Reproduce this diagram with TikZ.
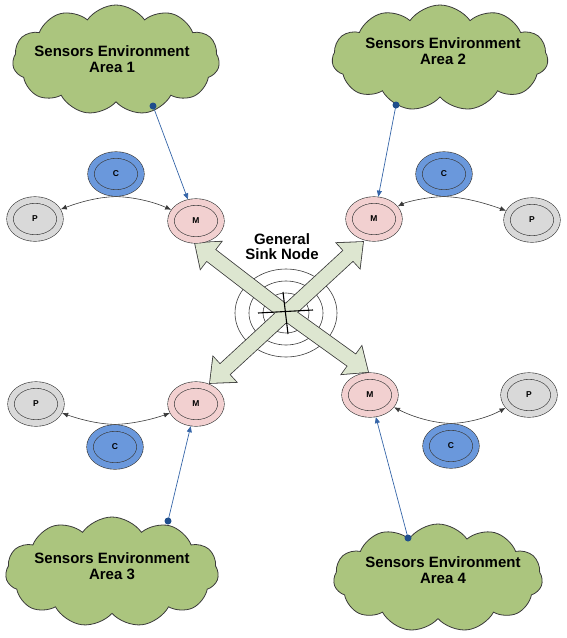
\documentclass[tikz,border=0pt]{standalone}
\usepackage{fontspec}
\setmainfont{Liberation Sans}
\usetikzlibrary{shapes.symbols,shapes.geometric,arrows.meta,calc}
\definecolor{cloudgreen}{HTML}{ABC57E}
\definecolor{mpink}{HTML}{F2D0D0}
\definecolor{cblue}{HTML}{6A98DC}
\definecolor{pgray}{HTML}{D9D9D9}
\definecolor{sage}{HTML}{DDE6D0}
\definecolor{linkblue}{HTML}{3565A8}
\definecolor{dotblue}{HTML}{1F4E8C}
\definecolor{edge}{HTML}{3A3A3A}
\tikzset{
  cloudbox/.style={cloud, cloud puffs=11, cloud puff arc=110, cloud ignores aspect,
    draw=edge, line width=0.8pt, fill=cloudgreen, inner sep=0pt},
  cloudtext/.style={align=center, font=\bfseries\fontsize{15}{15.5}\selectfont},
  dblnode/.style={ellipse, draw=edge, line width=0.6pt, fill=#1, double=#1,
    double distance=6pt, minimum width=50pt, minimum height=38pt, inner sep=0pt,
    outer sep=3.6pt, font=\bfseries\fontsize{8.5}{9}\selectfont},
  ring/.style={ellipse, draw=edge, line width=0.6pt, inner sep=0pt},
  link/.style={draw=linkblue, line width=0.7pt, -{Triangle[length=6pt,width=5pt]}},
  curvelink/.style={draw=edge, line width=0.6pt, -{Latex[length=6pt,width=5pt]}},
  arrowedge/.style={draw=edge, line width=1.6pt, line join=miter},
  arrowfill/.style={fill=sage},
}
\newcommand\sinkarrow[2]{%
  \path[#2] ($(S)!-6pt!(#1)!7pt!90:(#1)$)
    -- ($(#1)!20pt!(S)!7pt!-90:(S)$)
    -- ($(#1)!20pt!(S)!17pt!-90:(S)$)
    -- (#1)
    -- ($(#1)!20pt!(S)!17pt!90:(S)$)
    -- ($(#1)!20pt!(S)!7pt!90:(S)$)
    -- ($(S)!-6pt!(#1)!7pt!-90:(#1)$) -- cycle;}
\begin{document}
\begin{tikzpicture}[x=1pt,y=-1pt]
\useasboundingbox (0,0) rectangle (567,638);
% clouds
\node[cloudbox, minimum width=207pt, minimum height=110pt] (cl1) at (116,60) {};
\node[cloudbox, minimum width=216pt, minimum height=106pt] (cl2) at (440,58) {};
\node[cloudbox, minimum width=213pt, minimum height=110pt] (cl3) at (112,572) {};
\node[cloudbox, minimum width=209pt, minimum height=108pt] (cl4) at (438,578) {};
\node[cloudtext] (t1) at (112,59) {Sensors Environment\\Area 1};
\node[cloudtext] (t2) at (443,51) {Sensors Environment\\Area 2};
\node[cloudtext] (t3) at (112,566) {Sensors Environment\\Area 3};
\node[cloudtext] (t4) at (443,570) {Sensors Environment\\Area 4};
% sink
\coordinate (S) at (286,313);
\node[ring, minimum width=102pt, minimum height=88pt] (sink) at (S) {};
\node[ring, minimum width=74pt, minimum height=64pt] (sinkmid) at (S) {};
\node[ring, minimum width=46pt, minimum height=40pt] (sinkin) at (S) {};
\node[align=center, font=\bfseries\fontsize{15}{15}\selectfont] (sinklabel) at (282,247) {General\\Sink Node};
% big arrow tips
\coordinate (T1) at (195,243);
\coordinate (T2) at (363,242);
\coordinate (T3) at (210,383);
\coordinate (T4) at (368,372);
\sinkarrow{T1}{arrowedge}
\sinkarrow{T2}{arrowedge}
\sinkarrow{T3}{arrowedge}
\sinkarrow{T4}{arrowedge}
\sinkarrow{T1}{arrowfill}
\sinkarrow{T2}{arrowfill}
\sinkarrow{T3}{arrowfill}
\sinkarrow{T4}{arrowfill}
\draw[draw=black, line width=1.1pt] (258,313) -- (313,310);
\draw[draw=black, line width=1.1pt] (283,292) -- (288,334);
% nodes
\node[dblnode=mpink] (M1) at (196,221) {M};
\node[dblnode=mpink] (M2) at (374,219) {M};
\node[dblnode=mpink] (M3) at (196,404) {M};
\node[dblnode=mpink] (M4) at (370,395) {M};
\node[dblnode=cblue] (C1) at (116,174) {C};
\node[dblnode=cblue] (C2) at (444,174) {C};
\node[dblnode=cblue] (C3) at (115,447) {C};
\node[dblnode=cblue] (C4) at (451,446) {C};
\node[dblnode=pgray] (P1) at (35,219) {P};
\node[dblnode=pgray] (P2) at (532,220) {P};
\node[dblnode=pgray] (P3) at (36,404) {P};
\node[dblnode=pgray] (P4) at (529,395) {P};
% curved links
\draw[curvelink] (C1.south) .. controls (98,197) and (80,202) .. (P1);
\draw[curvelink] (C1.south) .. controls (134,197) and (154,202) .. (M1);
\draw[curvelink] (C2.south) .. controls (426,197) and (406,202) .. (M2);
\draw[curvelink] (C2.south) .. controls (462,197) and (482,202) .. (P2);
\draw[curvelink] (C3.north) .. controls (97,424) and (79,419) .. (P3);
\draw[curvelink] (C3.north) .. controls (133,424) and (153,419) .. (M3);
\draw[curvelink] (C4.north) .. controls (433,423) and (413,417) .. (M4);
\draw[curvelink] (C4.north) .. controls (469,423) and (489,417) .. (P4);
% sensor links
\coordinate (d1) at (153,106);
\coordinate (d2) at (396,105);
\coordinate (d3) at (168,521);
\coordinate (d4) at (408,538);
\draw[link] (d1) -- (M1);
\draw[link] (d2) -- (M2);
\draw[link] (d3) -- (M3);
\draw[link] (d4) -- (M4);
\foreach \d in {d1,d2,d3,d4} \fill[dotblue] (\d) circle (3.5pt);
\end{tikzpicture}
\end{document}
